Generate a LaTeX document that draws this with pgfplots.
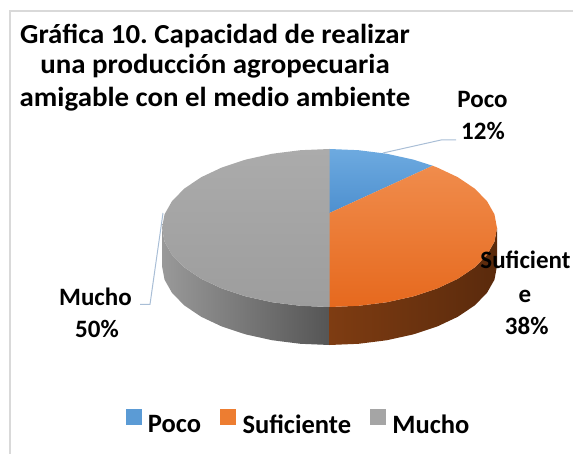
\documentclass[border=0pt]{standalone}
\usepackage{pgfplots}
\pgfplotsset{compat=1.18}
\usepackage{fontspec}
\setmainfont{Carlito}
\newfontfamily\titlefont[FakeStretch=1.05]{Carlito}
\definecolor{cblue}{HTML}{5B9BD5}
\definecolor{cblueT}{HTML}{6DAAE0}
\definecolor{cblueB}{HTML}{4E90CF}
\definecolor{corange}{HTML}{ED7D31}
\definecolor{corangeT}{HTML}{F08C4C}
\definecolor{corangeB}{HTML}{E6691E}
\definecolor{cgray}{HTML}{A5A5A5}
\definecolor{cgrayT}{HTML}{ABABAB}
\definecolor{cgrayB}{HTML}{9D9D9D}
\definecolor{gwallL}{HTML}{999999}
\definecolor{gwallR}{HTML}{555555}
\definecolor{owallL}{HTML}{7E3C12}
\definecolor{owallR}{HTML}{5A2A0C}
\definecolor{leader}{HTML}{A9BED6}
\definecolor{frame}{HTML}{D9D9D9}
\begin{document}
\frenchspacing
\begin{tikzpicture}
\useasboundingbox (0,0) rectangle (573pt,453pt);
\begin{axis}[
  at={(0,0)}, anchor=south west,
  scale only axis, width=573pt, height=453pt,
  xmin=0, xmax=573, ymin=0, ymax=453,
  hide axis,
  legend style={at={(axis cs:301,30)}, anchor=center, draw=none, fill=none,
    legend columns=3, font=\bfseries\fontsize{26.5}{30}\selectfont,
    nodes={inner xsep=7pt},
    /tikz/every even column/.append style={column sep=12pt}},
]
% frame
\addplot[draw=frame, line width=1.5pt, forget plot] coordinates {(10,-20) (10,442) (600,442)};
% gray wall (t = 180..270)
\addplot[draw=none, left color=gwallL, right color=gwallR, forget plot] coordinates {
(162.0,225.0) (164.55,211.29) (172.1,197.98) (184.44,185.5) (201.19,174.22)
(221.83,164.49) (245.75,156.59) (272.21,150.76) (300.42,147.2) (329.5,146.0)
(329.5,108.0) (300.42,109.2) (272.21,112.76) (245.75,118.59) (221.83,126.49)
(201.19,136.22) (184.44,147.5) (172.1,159.98) (164.55,173.29) (162.0,187.0)};
% orange wall (t = 270..360)
\addplot[draw=none, left color=owallL, right color=owallR, forget plot] coordinates {
(329.5,146.0) (358.58,147.2) (386.79,150.76) (413.25,156.59) (437.17,164.49)
(457.81,174.22) (474.56,185.5) (486.9,197.98) (494.45,211.29) (497.0,225.0)
(497.0,187.0) (494.45,173.29) (486.9,159.98) (474.56,147.5) (457.81,136.22)
(437.17,126.49) (413.25,118.59) (386.79,112.76) (358.58,109.2) (329.5,108.0)};
% Poco 12%
\addplot[draw=none, top color=cblueT, bottom color=cblueB, forget plot] coordinates {
(329.5,240) (329.5,304.0) (358.58,302.8) (386.79,299.24) (413.25,293.41) (432.63,287.25)};
% Suficiente 38%
\addplot[draw=none, top color=corangeT, bottom color=corangeB, forget plot] coordinates {
(329.5,240) (432.63,287.25) (437.17,285.51) (457.81,275.78) (474.56,264.5) (486.9,252.02)
(494.45,238.71) (497.0,225.0) (494.45,211.29) (486.9,197.98) (474.56,185.5)
(457.81,174.22) (437.17,164.49) (413.25,156.59) (386.79,150.76) (358.58,147.2)
(329.5,146.0)};
% Mucho 50%
\addplot[draw=none, top color=cgrayT, bottom color=cgrayB, forget plot] coordinates {
(329.5,240) (329.5,146.0) (300.42,147.2) (272.21,150.76) (245.75,156.59) (221.83,164.49)
(201.19,174.22) (184.44,185.5) (172.1,197.98) (164.55,211.29) (162.0,225.0)
(164.55,238.71) (172.1,252.02) (184.44,264.5) (201.19,275.78) (221.83,285.51)
(245.75,293.41) (272.21,299.24) (300.42,302.8) (329.5,304.0)};
% leader lines
\addplot[draw=leader, line width=1pt, forget plot] coordinates {(383,300) (441,313) (456,313)};
\addplot[draw=leader, line width=1pt, forget plot] coordinates {(140,148.7) (150,148.7) (163,240)};
% legend
\addlegendimage{legend image code/.code={\fill[cblue] (0pt,0pt) rectangle (15pt,15pt);}}
\addlegendentry{\textbf{Poco}}
\addlegendimage{legend image code/.code={\fill[corange] (0pt,0pt) rectangle (15pt,15pt);}}
\addlegendentry{\textbf{Suficiente}}
\addlegendimage{legend image code/.code={\fill[cgray] (0pt,0pt) rectangle (15pt,15pt);}}
\addlegendentry{\textbf{Mucho}}
% title
\node[anchor=base, font=\titlefont\bfseries\fontsize{27.5}{32}\selectfont] at (axis cs:215,409.7) {Gráfica 10. Capacidad de realizar};
\node[anchor=base, font=\titlefont\bfseries\fontsize{27.5}{32}\selectfont] at (axis cs:215,379) {una producción agropecuaria};
\node[anchor=base, font=\titlefont\bfseries\fontsize{27.5}{32}\selectfont] at (axis cs:215,346.3) {amigable con el medio ambiente};
% data labels
\node[anchor=base, font=\bfseries\fontsize{25}{30}\selectfont] at (axis cs:482.5,345) {Poco};
\node[anchor=base, font=\bfseries\fontsize{25}{30}\selectfont] at (axis cs:483,313) {12\%};
\node[anchor=base, font=\bfseries\fontsize{25}{30}\selectfont] at (axis cs:525.5,184) {Suficient};
\node[anchor=base, font=\bfseries\fontsize{25}{30}\selectfont] at (axis cs:525,150.5) {e};
\node[anchor=base, font=\bfseries\fontsize{25}{30}\selectfont] at (axis cs:526.7,119) {38\%};
\node[anchor=base, font=\bfseries\fontsize{25}{30}\selectfont] at (axis cs:95.5,147) {Mucho};
\node[anchor=base, font=\bfseries\fontsize{25}{30}\selectfont] at (axis cs:97,115.3) {50\%};
\end{axis}
\end{tikzpicture}
\end{document}
